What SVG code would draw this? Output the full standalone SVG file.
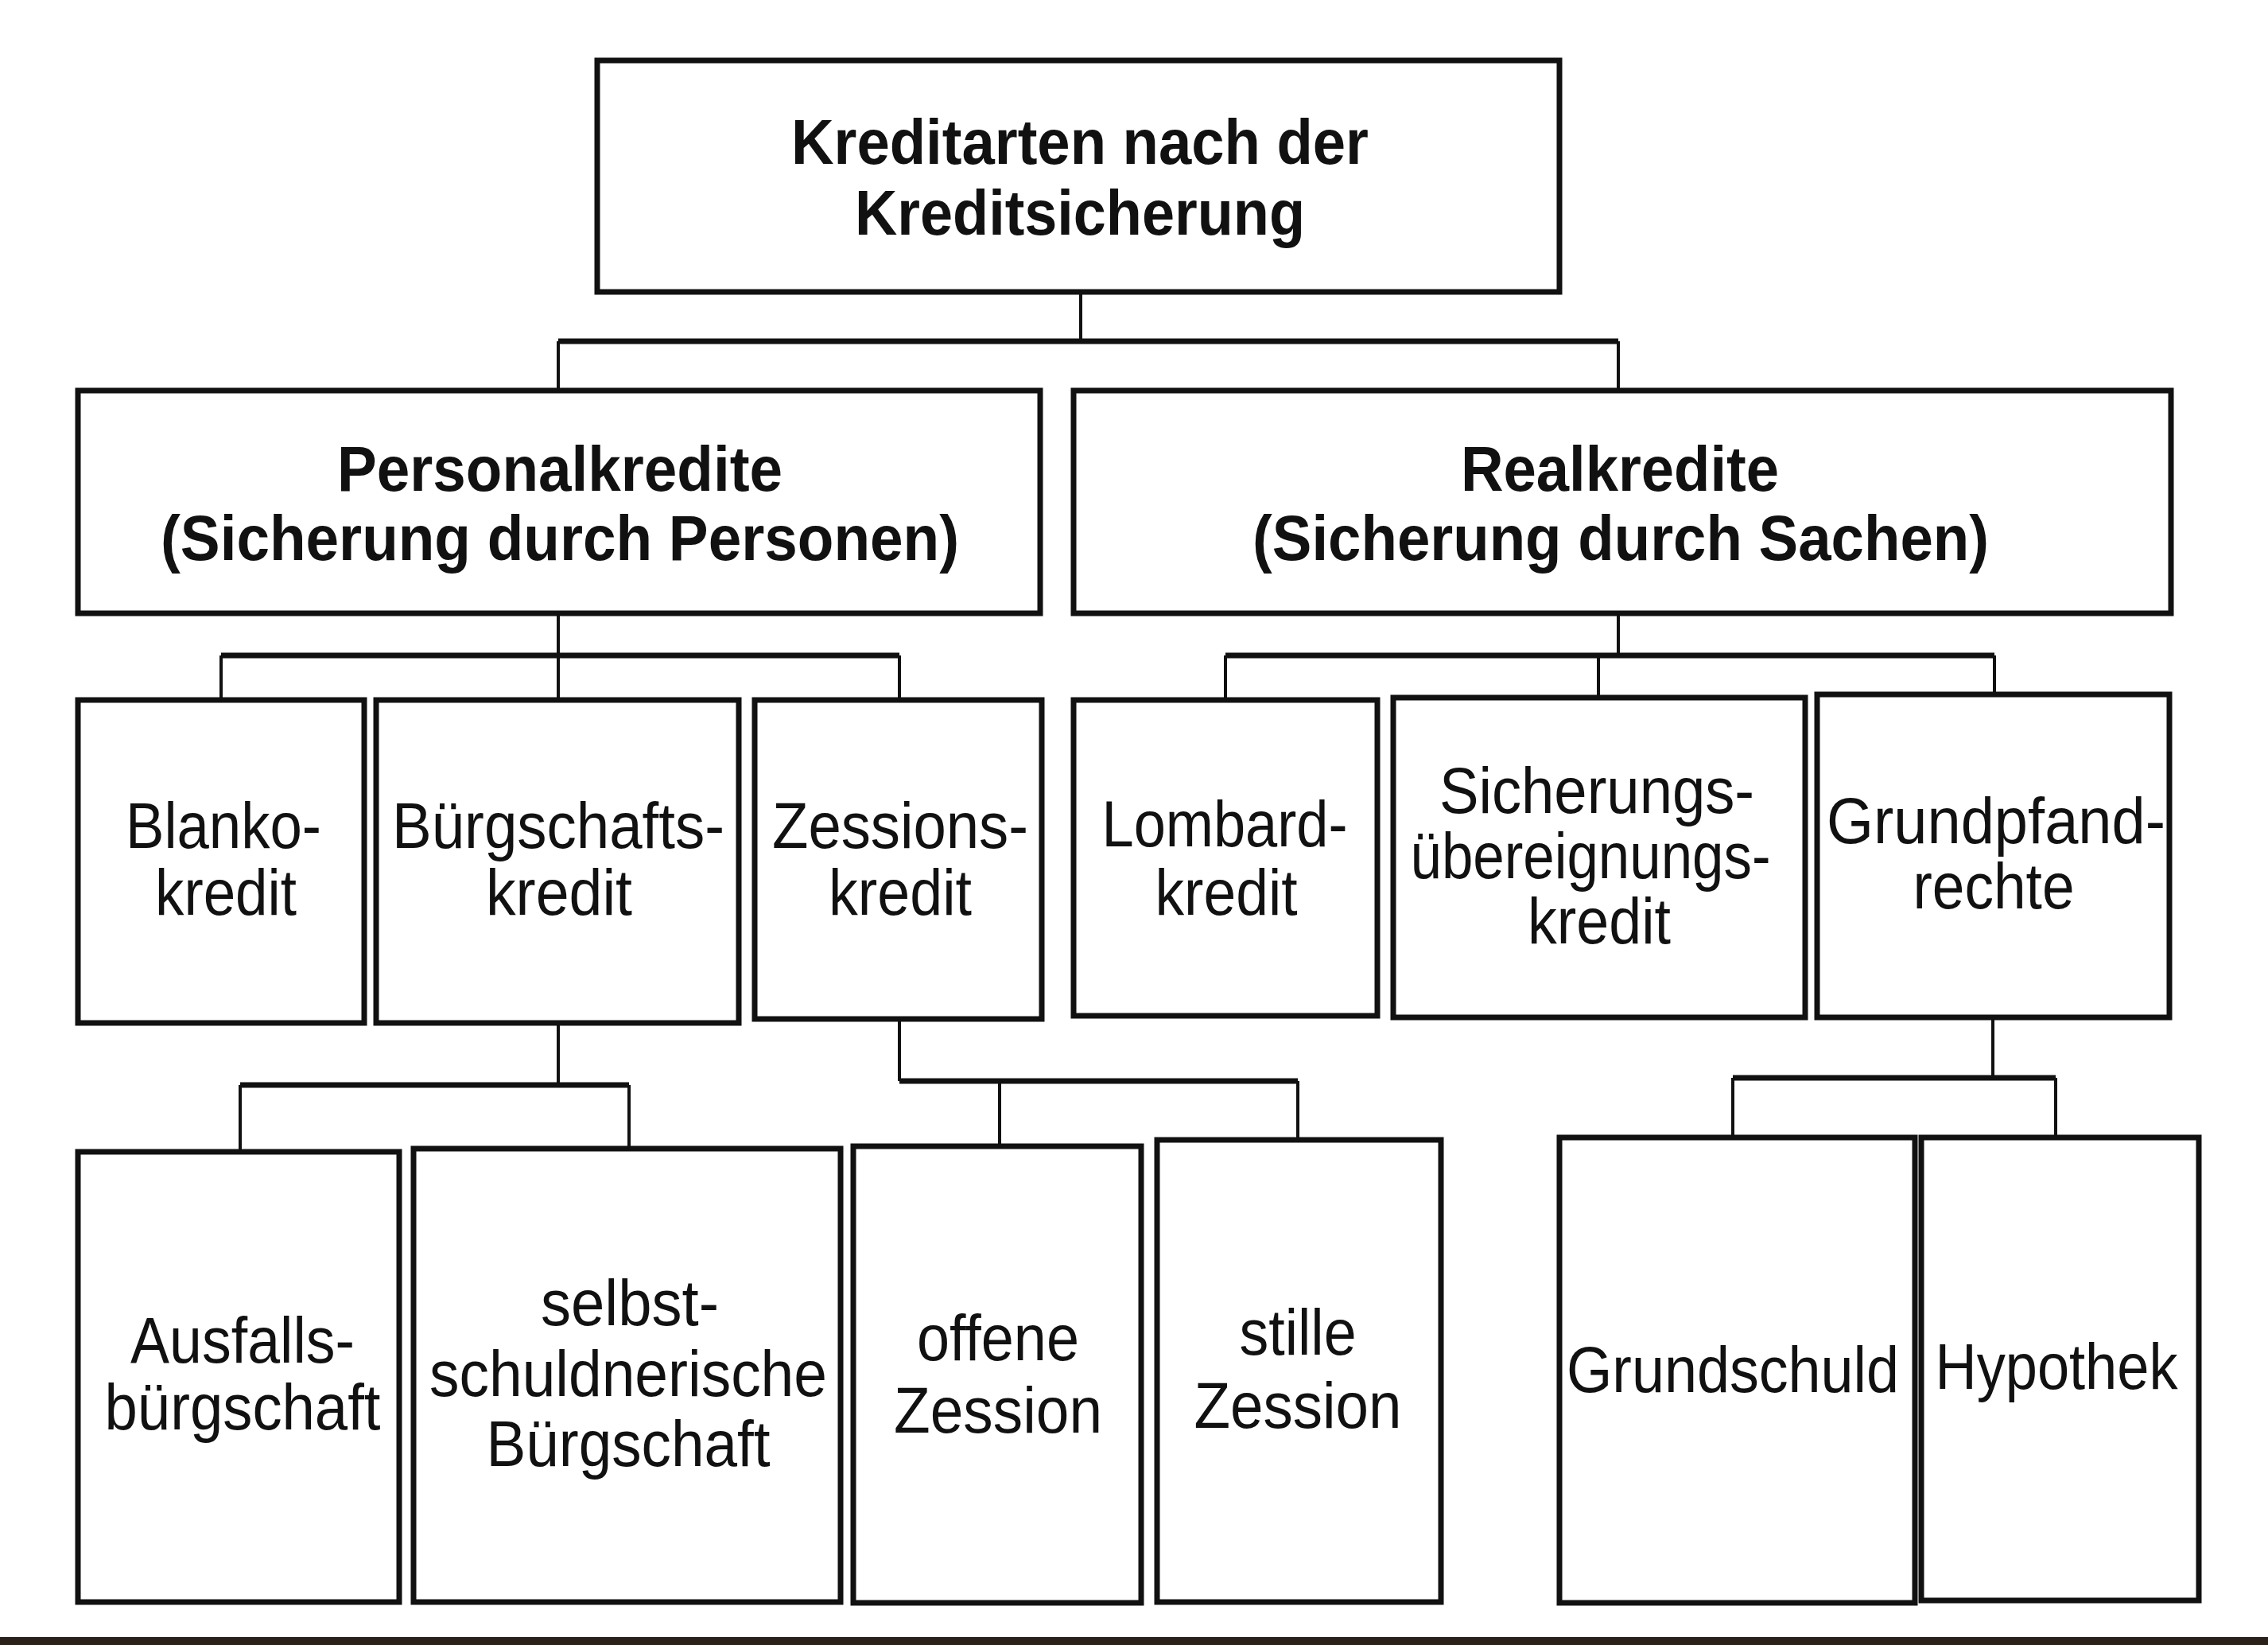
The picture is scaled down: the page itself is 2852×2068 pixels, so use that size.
<svg xmlns="http://www.w3.org/2000/svg" width="2852" height="2068" viewBox="0 0 2852 2068">
<style>
.box{fill:#fff;stroke:#111;stroke-width:7}
.v{stroke:#111;stroke-width:4;fill:none}
.h{stroke:#111;stroke-width:7;fill:none}
.b{font-family:"Liberation Sans",Arial,sans-serif;font-weight:bold;font-size:80px;fill:#111;text-anchor:middle}
.r{font-family:"Liberation Sans",Arial,sans-serif;font-size:82px;fill:#111;text-anchor:middle}
</style>
<rect x="0" y="0" width="2852" height="2068" fill="#fff"/>
<g id="connectors">
<path class="v" d="M1359 367V429M702 429V491M2035 429V491"/>
<path class="h" d="M702 429H2035"/>
<path class="v" d="M702 771V824M278 824V880M702 824V880M1131 824V880"/>
<path class="h" d="M278 824H1131"/>
<path class="v" d="M2035 771V824M1541 824V880M2010 824V880M2508 824V876"/>
<path class="h" d="M1541 824H2508"/>
<path class="v" d="M702 1286V1364M302 1364V1448M791 1364V1444"/>
<path class="h" d="M302 1364H791"/>
<path class="v" d="M1131 1281V1359M1257 1359V1441M1632 1359V1433"/>
<path class="h" d="M1131 1359H1632"/>
<path class="v" d="M2506 1279V1355M2179 1355V1430M2585 1355V1430"/>
<path class="h" d="M2179 1355H2585"/>
</g>
<g id="root">
<rect class="box" x="751" y="76" width="1210" height="291"/>
<text class="b" x="1358" y="206" textLength="726" lengthAdjust="spacingAndGlyphs">Kreditarten nach der</text>
<text class="b" x="1358" y="295" textLength="566" lengthAdjust="spacingAndGlyphs">Kreditsicherung</text>
</g>
<g id="personal">
<rect class="box" x="98" y="491" width="1210" height="280"/>
<text class="b" x="704" y="617" textLength="560" lengthAdjust="spacingAndGlyphs">Personalkredite</text>
<text class="b" x="704" y="704" textLength="1004" lengthAdjust="spacingAndGlyphs">(Sicherung durch Personen)</text>
</g>
<g id="real">
<rect class="box" x="1350" y="491" width="1380" height="280"/>
<text class="b" x="2037" y="617" textLength="400" lengthAdjust="spacingAndGlyphs">Realkredite</text>
<text class="b" x="2038" y="704" textLength="926" lengthAdjust="spacingAndGlyphs">(Sicherung durch Sachen)</text>
</g>
<g id="blanko">
<rect class="box" x="98" y="880" width="360" height="406"/>
<text class="r" x="281" y="1066" textLength="246" lengthAdjust="spacingAndGlyphs">Blanko-</text>
<text class="r" x="284" y="1150" textLength="178" lengthAdjust="spacingAndGlyphs">kredit</text>
</g>
<g id="buergschaftskredit">
<rect class="box" x="473" y="880" width="456" height="406"/>
<text class="r" x="702" y="1066" textLength="418" lengthAdjust="spacingAndGlyphs">Bürgschafts-</text>
<text class="r" x="703" y="1150" textLength="184" lengthAdjust="spacingAndGlyphs">kredit</text>
</g>
<g id="zessionskredit">
<rect class="box" x="949" y="880" width="361" height="401"/>
<text class="r" x="1132" y="1066" textLength="322" lengthAdjust="spacingAndGlyphs">Zessions-</text>
<text class="r" x="1132" y="1150" textLength="180" lengthAdjust="spacingAndGlyphs">kredit</text>
</g>
<g id="lombard">
<rect class="box" x="1350" y="880" width="382" height="397"/>
<text class="r" x="1540" y="1064" textLength="309" lengthAdjust="spacingAndGlyphs">Lombard-</text>
<text class="r" x="1542" y="1150" textLength="179" lengthAdjust="spacingAndGlyphs">kredit</text>
</g>
<g id="sicherungsuebereignung">
<rect class="box" x="1752" y="877" width="518" height="402"/>
<text class="r" x="2008" y="1022" textLength="396" lengthAdjust="spacingAndGlyphs">Sicherungs-</text>
<text class="r" x="2000" y="1104" textLength="453" lengthAdjust="spacingAndGlyphs">übereignungs-</text>
<text class="r" x="2011" y="1186" textLength="180" lengthAdjust="spacingAndGlyphs">kredit</text>
</g>
<g id="grundpfandrechte">
<rect class="box" x="2285" y="873" width="443" height="406"/>
<text class="r" x="2510" y="1060" textLength="426" lengthAdjust="spacingAndGlyphs">Grundpfand-</text>
<text class="r" x="2507" y="1142" textLength="203" lengthAdjust="spacingAndGlyphs">rechte</text>
</g>
<g id="ausfall">
<rect class="box" x="98" y="1448" width="404" height="566"/>
<text class="r" x="305" y="1713" textLength="282" lengthAdjust="spacingAndGlyphs">Ausfalls-</text>
<text class="r" x="305" y="1797" textLength="347" lengthAdjust="spacingAndGlyphs">bürgschaft</text>
</g>
<g id="selbstschuldnerisch">
<rect class="box" x="520" y="1444" width="537" height="570"/>
<text class="r" x="792" y="1666" textLength="224" lengthAdjust="spacingAndGlyphs">selbst-</text>
<text class="r" x="790" y="1755" textLength="500" lengthAdjust="spacingAndGlyphs">schuldnerische</text>
<text class="r" x="790" y="1843" textLength="357" lengthAdjust="spacingAndGlyphs">Bürgschaft</text>
</g>
<g id="offene">
<rect class="box" x="1073" y="1441" width="362" height="574"/>
<text class="r" x="1255" y="1710" textLength="204" lengthAdjust="spacingAndGlyphs">offene</text>
<text class="r" x="1255" y="1801" textLength="262" lengthAdjust="spacingAndGlyphs">Zession</text>
</g>
<g id="stille">
<rect class="box" x="1455" y="1433" width="357" height="581"/>
<text class="r" x="1632" y="1703" textLength="147" lengthAdjust="spacingAndGlyphs">stille</text>
<text class="r" x="1632" y="1795" textLength="261" lengthAdjust="spacingAndGlyphs">Zession</text>
</g>
<g id="grundschuld">
<rect class="box" x="1961" y="1430" width="447" height="585"/>
<text class="r" x="2179" y="1750" textLength="418" lengthAdjust="spacingAndGlyphs">Grundschuld</text>
</g>
<g id="hypothek">
<rect class="box" x="2416" y="1430" width="349" height="582"/>
<text class="r" x="2586" y="1746" textLength="305" lengthAdjust="spacingAndGlyphs">Hypothek</text>
</g>
<rect x="0" y="2058" width="2852" height="10" fill="#2b211b"/>
</svg>
